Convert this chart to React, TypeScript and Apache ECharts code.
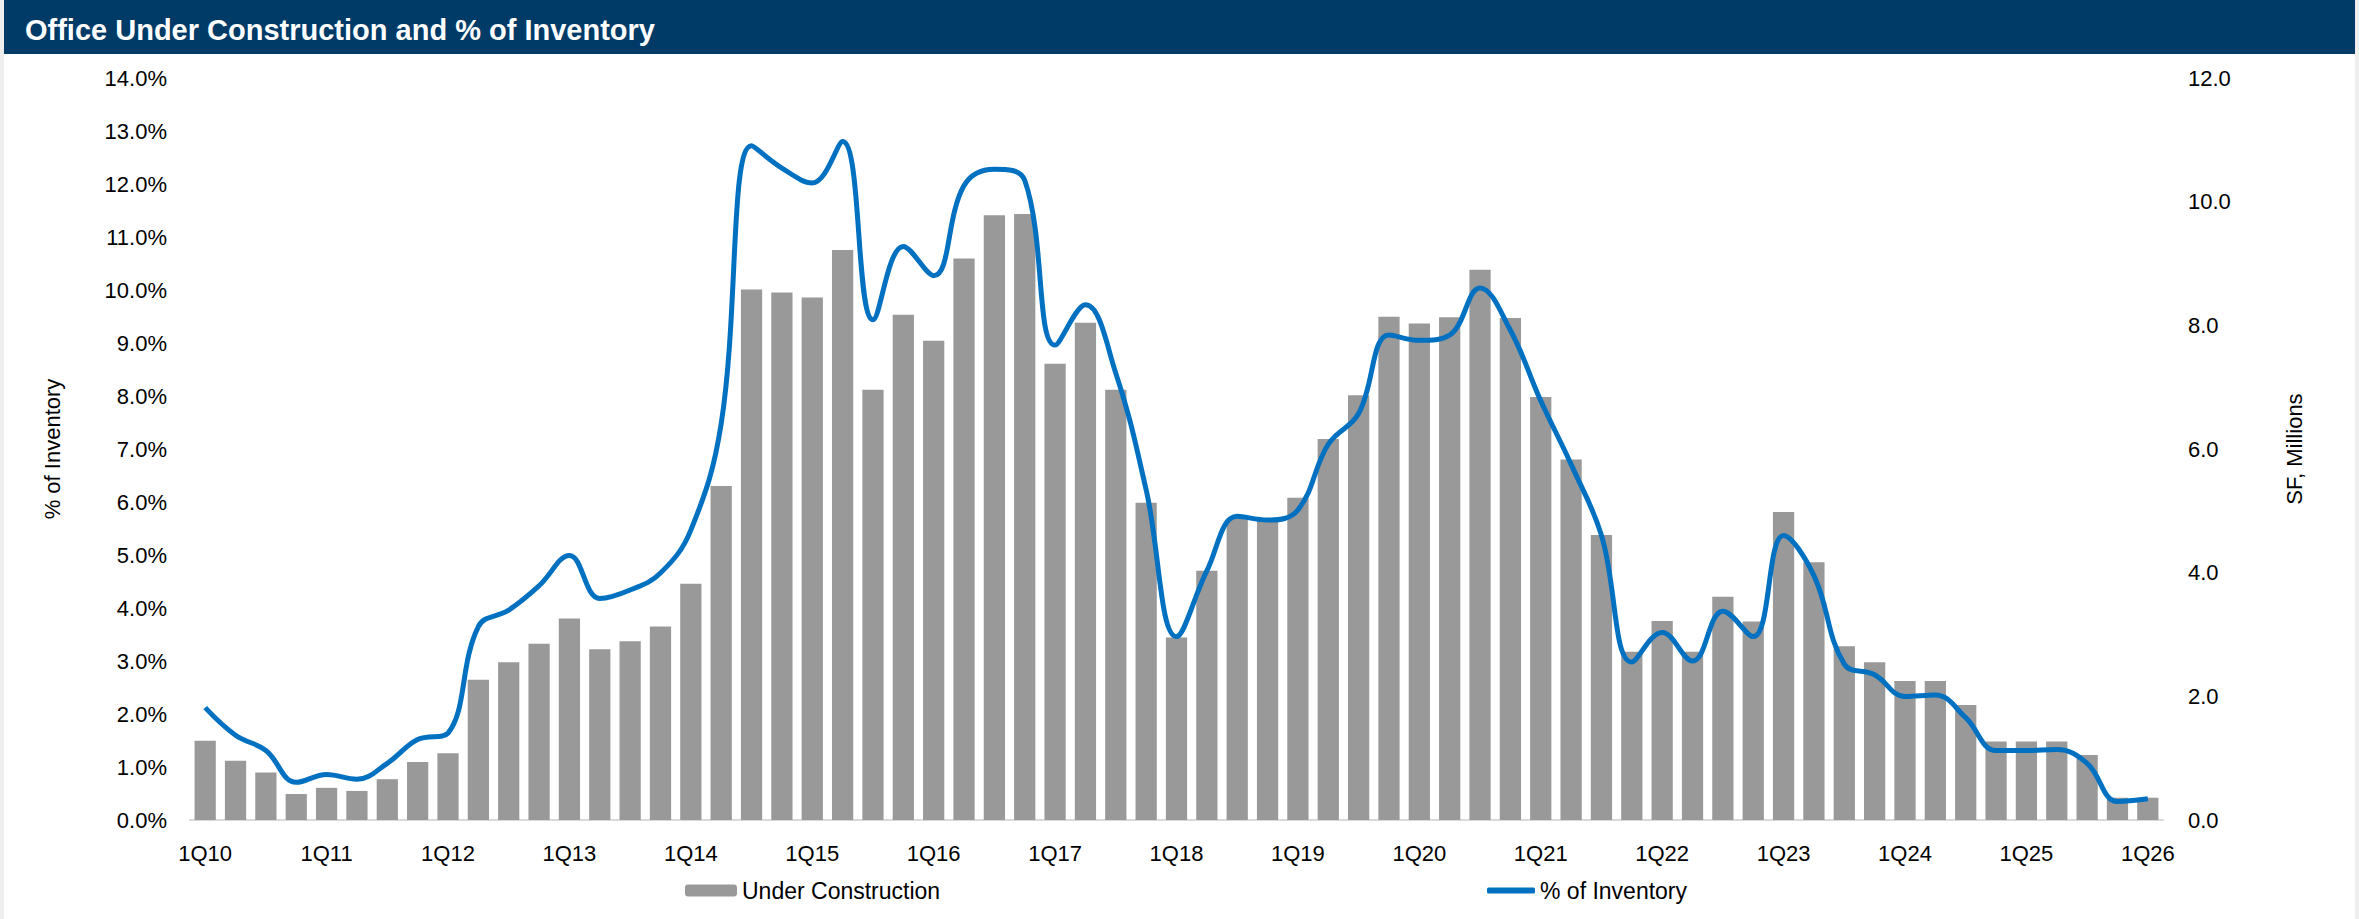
import React, { useEffect, useRef } from "react";
import * as echarts from "echarts";

const quarters: string[] = [];
for (let y = 10; y <= 26; y++) {
  for (let q = 1; q <= 4; q++) {
    if (y === 26 && q > 1) break;
    quarters.push(`${q}Q${y}`);
  }
}

const underConstruction: number[] = [
  1.28, 0.96, 0.77, 0.42,
  0.52, 0.47, 0.66, 0.94,
  1.08, 2.27, 2.55, 2.85,
  3.26, 2.76, 2.89, 3.13,
  3.82, 5.40, 8.58, 8.53,
  8.45, 9.22, 6.96, 8.17,
  7.75, 9.08, 9.78, 9.80,
  7.38, 8.04, 6.96, 5.13,
  2.95, 4.03, 4.88, 4.86,
  5.21, 6.16, 6.87, 8.14,
  8.03, 8.13, 8.90, 8.12,
  6.84, 5.83, 4.61, 2.72,
  3.22, 2.72, 3.61, 3.21,
  4.98, 4.17, 2.81, 2.55,
  2.25, 2.25, 1.86, 1.27,
  1.27, 1.27, 1.05, 0.36,
  0.36,
];

const pctOfInventory: number[] = [
  2.12, 1.60, 1.31, 0.71,
  0.86, 0.77, 1.07, 1.52,
  1.64, 3.65, 3.96, 4.42,
  4.99, 4.18, 4.34, 4.66,
  5.47, 7.48, 12.72, 12.30,
  12.02, 12.80, 9.44, 10.82,
  10.27, 11.97, 12.28, 12.07,
  8.96, 9.72, 8.43, 6.23,
  3.46, 4.70, 5.73, 5.66,
  5.85, 7.09, 7.67, 9.15,
  9.05, 9.15, 10.04, 9.24,
  7.91, 6.71, 5.37, 2.98,
  3.54, 3.00, 3.94, 3.46,
  5.37, 4.61, 2.94, 2.74,
  2.33, 2.36, 1.93, 1.31,
  1.31, 1.33, 1.07, 0.35,
  0.40,
];

const TITLE = "Office Under Construction and % of Inventory";
const FONT = "'Liberation Sans', Arial, sans-serif";

export default function App() {
  const ref = useRef<HTMLDivElement>(null);
  useEffect(() => {
    if (!ref.current) return;
    const chart = echarts.init(ref.current, undefined, { renderer: "svg" });
    chart.setOption({
      animation: false,
      backgroundColor: "#ffffff",
      textStyle: { fontFamily: FONT },
      graphic: [
        { type: "rect", left: 0, top: 0, shape: { width: 4, height: 919 }, style: { fill: "#eeeeee" }, z: 0 },
        { type: "rect", left: 2355, top: 0, shape: { width: 4, height: 919 }, style: { fill: "#eeeeee" }, z: 0 },
        { type: "rect", left: 4, top: 0, shape: { width: 2351, height: 54 }, style: { fill: "#003B68" }, z: 0 },
      ],
      title: {
        text: TITLE,
        left: 20,
        top: 10,
        textStyle: { color: "#ffffff", fontSize: 29, fontWeight: "bold", fontFamily: FONT },
      },
      grid: { left: 190, right: 196, top: 78, bottom: 99, containLabel: false },
      legend: [
        {
          data: ["Under Construction"],
          left: 680,
          top: 874,
          itemWidth: 52,
          itemHeight: 12,
          textStyle: { fontSize: 23, color: "#000", fontFamily: FONT },
        },
        {
          data: [{ name: "% of Inventory", icon: "roundRect" }],
          left: 1482,
          top: 874,
          itemWidth: 48,
          itemHeight: 6,
          textStyle: { fontSize: 23, color: "#000", fontFamily: FONT },
        },
      ],
      xAxis: {
        type: "category",
        data: quarters,
        boundaryGap: true,
        axisLine: { lineStyle: { color: "#d9d9d9", width: 2 } },
        axisTick: { show: false },
        axisLabel: { interval: 3, color: "#000", fontSize: 22, margin: 22, fontFamily: FONT },
        splitLine: { show: false },
      },
      yAxis: [
        {
          type: "value",
          min: 0,
          max: 14,
          interval: 1,
          position: "left",
          name: "% of Inventory",
          nameLocation: "middle",
          nameRotate: 90,
          nameGap: 127,
          nameTextStyle: { fontSize: 22, color: "#000", fontFamily: FONT },
          axisLine: { show: false },
          axisTick: { show: false },
          splitLine: { show: false },
          axisLabel: { formatter: (v: number) => `${v.toFixed(1)}%`, color: "#000", fontSize: 22, margin: 23, fontFamily: FONT },
        },
        {
          type: "value",
          min: 0,
          max: 12,
          interval: 2,
          position: "right",
          name: "SF, Millions",
          nameLocation: "middle",
          nameRotate: 90,
          nameGap: 120,
          nameTextStyle: { fontSize: 22, color: "#000", fontFamily: FONT },
          axisLine: { show: false },
          axisTick: { show: false },
          splitLine: { show: false },
          axisLabel: { formatter: (v: number) => v.toFixed(1), color: "#000", fontSize: 22, margin: 25, fontFamily: FONT },
        },
      ],
      series: [
        {
          name: "Under Construction",
          type: "bar",
          yAxisIndex: 1,
          data: underConstruction,
          barCategoryGap: "30%",
          itemStyle: { color: "#999999" },
        },
        {
          name: "% of Inventory",
          type: "line",
          yAxisIndex: 0,
          data: pctOfInventory,
          smooth: 0.4,
          symbol: "none",
          lineStyle: { color: "#0070C0", width: 5 },
          itemStyle: { color: "#0070C0" },
        },
      ],
    });
    return () => chart.dispose();
  }, []);
  return (
    <div
      ref={ref}
      style={{ position: "absolute", left: 0, top: 0, width: 2359, height: 919 }}
    />
  );
}
